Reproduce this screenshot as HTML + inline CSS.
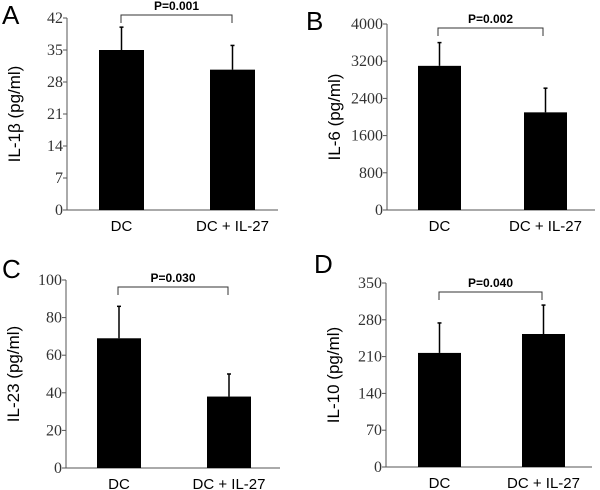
<!DOCTYPE html>
<html><head><meta charset="utf-8"><style>
html,body{margin:0;padding:0;background:#fff;}
svg{display:block}
.tick{font-family:"Liberation Serif",serif;font-size:16px;fill:#333}
.cat{font-family:"Liberation Sans",sans-serif;font-size:15px;fill:#000}
.ylab{font-family:"Liberation Sans",sans-serif;font-size:17px;fill:#000}
.pval{font-family:"Liberation Sans",sans-serif;font-size:12px;font-weight:bold;fill:#000}
.panel{font-family:"Liberation Sans",sans-serif;font-size:26px;fill:#000}
</style></head><body>
<svg id="fig" width="600" height="490" viewBox="0 0 600 490"></svg>
<script>
const categories = ["DC", "DC + IL-27"];
const il1bMeans = [35, 30.7];
const il1bErrors = [40, 36];
const il1bTicks = [0, 7, 14, 21, 28, 35, 42];
const il6Means = [3100, 2100];
const il6Errors = [3600, 2620];
const il6Ticks = [0, 800, 1600, 2400, 3200, 4000];
const il23Means = [69, 38];
const il23Errors = [86, 50];
const il23Ticks = [0, 20, 40, 60, 80, 100];
const il10Means = [217, 253];
const il10Errors = [274, 308];
const il10Ticks = [0, 70, 140, 210, 280, 350];
const pValues = ["P=0.001", "P=0.002", "P=0.030", "P=0.040"];

const NS = "http://www.w3.org/2000/svg";
const svg = document.getElementById("fig");
function mk(tag, attrs, parent, text) {
  const e = document.createElementNS(NS, tag);
  for (const k in attrs) e.setAttribute(k, attrs[k]);
  if (text !== undefined) e.textContent = text;
  (parent || svg).appendChild(e);
  return e;
}
function panel(cfg) {
  const g = mk("g", {});
  
  
  const max = cfg.ticks[cfg.ticks.length - 1];
  const y = v => cfg.y0 - (v / max) * (cfg.y0 - cfg.y1);
  const L = mk("text", {x: cfg.lx, y: cfg.ly, class: "panel"}, g, cfg.letter);
  
  
  const ax = mk("line", {x1: cfg.ax, x2: cfg.ax, y1: cfg.y1, y2: cfg.y0, stroke: "#555", "stroke-width": 1}, g);
  
  
  const xa = mk("line", {x1: cfg.ax, x2: cfg.xend, y1: cfg.y0, y2: cfg.y0, stroke: "#555", "stroke-width": 1}, g);
  
  
  cfg.ticks.forEach(t => {
    mk("line", {x1: cfg.ax - 4, x2: cfg.ax, y1: y(t), y2: y(t), stroke: "#555"}, g);
    const tl = mk("text", {x: cfg.ax - 4, y: y(t) + 5, "text-anchor": "end", class: "tick"}, g, t);
    
    
  });
  const yl = mk("text", {transform: `translate(${cfg.ax - 47},${(cfg.y0 + cfg.y1) / 2}) rotate(-90)`, "text-anchor": "middle", class: "ylab"}, g, cfg.ylabel);
  
  
  categories.forEach((c, i) => {
    const bx = cfg.bx[i];
    const cx = bx + cfg.bw / 2;
    const top = y(cfg.means[i]);
    const eb = mk("line", {x1: cx, x2: cx, y1: y(cfg.errs[i]), y2: top, stroke: "#000", "stroke-width": 1.5}, g);
    
    
    mk("line", {x1: cx - 2, x2: cx + 2, y1: y(cfg.errs[i]), y2: y(cfg.errs[i]), stroke: "#000", "stroke-width": 1.5}, g);
    const r = mk("rect", {x: bx, y: top, width: cfg.bw, height: cfg.y0 - top, fill: "#000"}, g);
    
    
    const cl = mk("text", {x: cx, y: cfg.y0 + 21, "text-anchor": "middle", class: "cat"}, g, c);
    
    
  });
  const br = mk("path", {d: `M${cfg.brx[0]},${cfg.bry + 8} V${cfg.bry} H${cfg.brx[1]} V${cfg.bry + 8}`, fill: "none", stroke: "#333", "stroke-width": 1}, g);
  
  
  const pt = mk("text", {x: (cfg.brx[0] + cfg.brx[1]) / 2, y: cfg.bry - 5, "text-anchor": "middle", class: "pval"}, g, cfg.p);
  
  
}
panel({name: "panel-a-il1b", letter: "A", lx: 2, ly: 24, ax: 67, y0: 210, y1: 18, xend: 278, ticks: il1bTicks, means: il1bMeans, errs: il1bErrors, bx: [99, 210], bw: 45, ylabel: "IL-1β (pg/ml)", brx: [121, 232], bry: 15, p: pValues[0]});
panel({name: "panel-b-il6", letter: "B", lx: 306, ly: 30, ax: 387, y0: 210, y1: 24, xend: 595, ticks: il6Ticks, means: il6Means, errs: il6Errors, bx: [418, 524], bw: 43, ylabel: "IL-6  (pg/ml)", brx: [438, 543], bry: 28, p: pValues[1]});
panel({name: "panel-c-il23", letter: "C", lx: 2, ly: 278, ax: 66, y0: 468, y1: 280, xend: 280, ticks: il23Ticks, means: il23Means, errs: il23Errors, bx: [97, 207], bw: 44, ylabel: "IL-23  (pg/ml)", brx: [118, 228], bry: 287, p: pValues[2]});
panel({name: "panel-d-il10", letter: "D", lx: 314, ly: 273, ax: 386, y0: 467, y1: 283, xend: 592, ticks: il10Ticks, means: il10Means, errs: il10Errors, bx: [418, 522], bw: 43, ylabel: "IL-10  (pg/ml)", brx: [439, 542], bry: 292, p: pValues[3]});
</script>
</body></html>
